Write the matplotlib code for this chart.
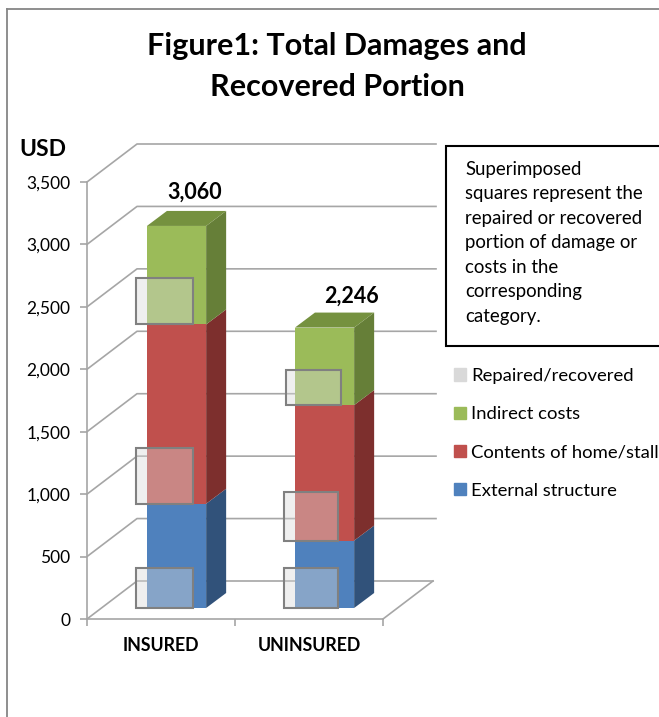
import matplotlib
matplotlib.use("Agg")
import matplotlib.pyplot as plt
from matplotlib.patches import Patch, Rectangle
import numpy as np

W, H = 659, 717

# values (USD)
categories = ["INSURED", "UNINSURED"]
external = [835, 540]
contents = [1436, 1085]
indirect = [789, 621]
rec_external = [320, 320]
rec_contents = [448, 392]
rec_indirect = [376, 278]
y_ticks = [0, 500, 1000, 1500, 2000, 2500, 3000, 3500]
legend_labels = ["Repaired/recovered", "Indirect costs", "Contents of home/stall", "External structure"]
note_lines = ["Superimposed", "squares represent the", "repaired or recovered",
              "portion of damage or", "costs in the", "corresponding", "category."]

plt.rcParams["font.family"] = ["Lato", "DejaVu Sans"]

BLUE, RED, GREEN = "#4F81BD", "#C0504D", "#9BBB59"
SIDES = ["#31527A", "#7D2F2D", "#667F38"]
TOP = "#75913F"
GRID = "#A6A6A6"

fig = plt.figure(figsize=(W / 100, H / 100), dpi=100)
# the axes box is the front plane of the 3d chart
ax = fig.add_axes([87 / W, 1 - 619 / H, 296 / W, 437 / H])
ax.set_xlim(0, 2)
ax.set_ylim(0, 3500)
ax.patch.set_alpha(0)

px_x = 2 / 296        # x units per pixel
px_y = 3500 / 437     # USD per pixel
wall_dx, wall_dy = 50 * px_x, 38 * px_y
bar_dx, bar_dy = 20 * px_x, 15 * px_y
lift = 11 * px_y
bar_left = np.array([0.405, 1.405])
bar_w = 0.40
label_dx = [0.325, 0.379]
label_dy = [67, 43]

# walls and floor
for t in y_ticks:
    end = 2 + wall_dx if t == 0 else 2 + 53 * px_x
    ax.plot([0, wall_dx, end], [t, t + wall_dy, t + wall_dy], color=GRID, lw=1.2, clip_on=False, zorder=1)
ax.plot([2, 2 + wall_dx], [0, wall_dy], color=GRID, lw=1.2, clip_on=False, zorder=1)

# stacked bars with side and top faces
bottom = np.zeros(2)
bottoms = []
for vals, col, side in zip([external, contents, indirect], [BLUE, RED, GREEN], SIDES):
    vals = np.array(vals)
    bottoms.append(bottom.copy())
    for i in range(2):
        r = bar_left[i] + bar_w
        b0 = bottom[i] + lift
        b1 = b0 + vals[i]
        ax.fill([r, r + bar_dx, r + bar_dx, r], [b0, b0 + bar_dy, b1 + bar_dy, b1], color=side, lw=0, clip_on=False, zorder=2)
    ax.bar(bar_left, vals, width=bar_w, bottom=bottom + lift, align="edge", color=col, lw=0, zorder=3)
    bottom = bottom + vals
for i in range(2):
    l, r, t = bar_left[i], bar_left[i] + bar_w, bottom[i] + lift
    ax.fill([l, l + bar_dx, r + bar_dx, r], [t, t + bar_dy, t + bar_dy, t], color=TOP, lw=0, clip_on=False, zorder=2)
    ax.text(l + label_dx[i], t + bar_dy + label_dy[i], f"{int(bottom[i]):,}", ha="center", va="bottom",
            fontsize=15.5, fontweight="bold", color="black")

# superimposed squares for the recovered part
sq_left = [[0.331, 1.331], [0.331, 1.331], [0.331, 1.345]]
sq_w = [[0.385, 0.365], [0.385, 0.365], [0.385, 0.372]]
for vals, base, lefts, widths in zip([rec_external, rec_contents, rec_indirect], bottoms, sq_left, sq_w):
    for i in range(2):
        ax.add_patch(Rectangle((lefts[i], base[i] + lift), widths[i], vals[i], facecolor=(0.851, 0.851, 0.851, 0.4),
                               edgecolor="#808080", lw=1.5, clip_on=False, zorder=4))

# axes
for s in ["top", "right"]:
    ax.spines[s].set_visible(False)
for s in ["left", "bottom"]:
    ax.spines[s].set_color(GRID)
    ax.spines[s].set_linewidth(1.2)
ax.set_yticks(y_ticks)
ax.set_yticklabels([f"{t:,}" for t in y_ticks], fontsize=12.5)
ax.set_xticks([0, 1, 2])
ax.set_xticklabels([])
ax.set_xticks([0.5, 1.5], labels=categories, minor=True, fontsize=12.8, fontweight="bold")
ax.tick_params(axis="x", which="minor", length=0, pad=13)
ax.tick_params(axis="both", which="major", length=5, width=1.2, color=GRID)
ax.tick_params(axis="y", which="major", pad=7)


def fx(x):
    return x / W


def fy(y):
    return 1 - y / H


# outer chart border, runs off the right and bottom of the picture
fig.add_artist(plt.Line2D([fx(7), fx(7)], [0, fy(9)], color="#868686", lw=1.3))
fig.add_artist(plt.Line2D([fx(7), 1], [fy(9), fy(9)], color="#868686", lw=1.3))

fig.text(fx(337), fy(46), "Figure1: Total Damages and", ha="center", va="center", fontsize=22, fontweight="bold")
fig.text(fx(337), fy(87), "Recovered Portion", ha="center", va="center", fontsize=22, fontweight="bold")
fig.text(fx(43), fy(149), "USD", ha="center", va="center", fontsize=16.5, fontweight="bold")

# note box
fig.add_artist(Rectangle((fx(446), fy(346)), 300 / W, 200 / H, transform=fig.transFigure,
                         facecolor="white", edgecolor="black", lw=1.5, zorder=5))
for n, line in enumerate(note_lines):
    fig.text(fx(465), fy(169 + n * 24.6), line, ha="left", va="center", fontsize=13.4, zorder=6)

handles = [Patch(color="#D9D9D9"), Patch(color=GREEN), Patch(color=RED), Patch(color=BLUE)]
fig.legend(handles, legend_labels, loc="upper left", bbox_to_anchor=(fx(454), fy(368)), frameon=False,
           fontsize=13.3, handlelength=0.65, handleheight=0.65, handletextpad=0.27, labelspacing=1.2,
           borderpad=0, borderaxespad=0)

fig.savefig("out.png", dpi=100)
